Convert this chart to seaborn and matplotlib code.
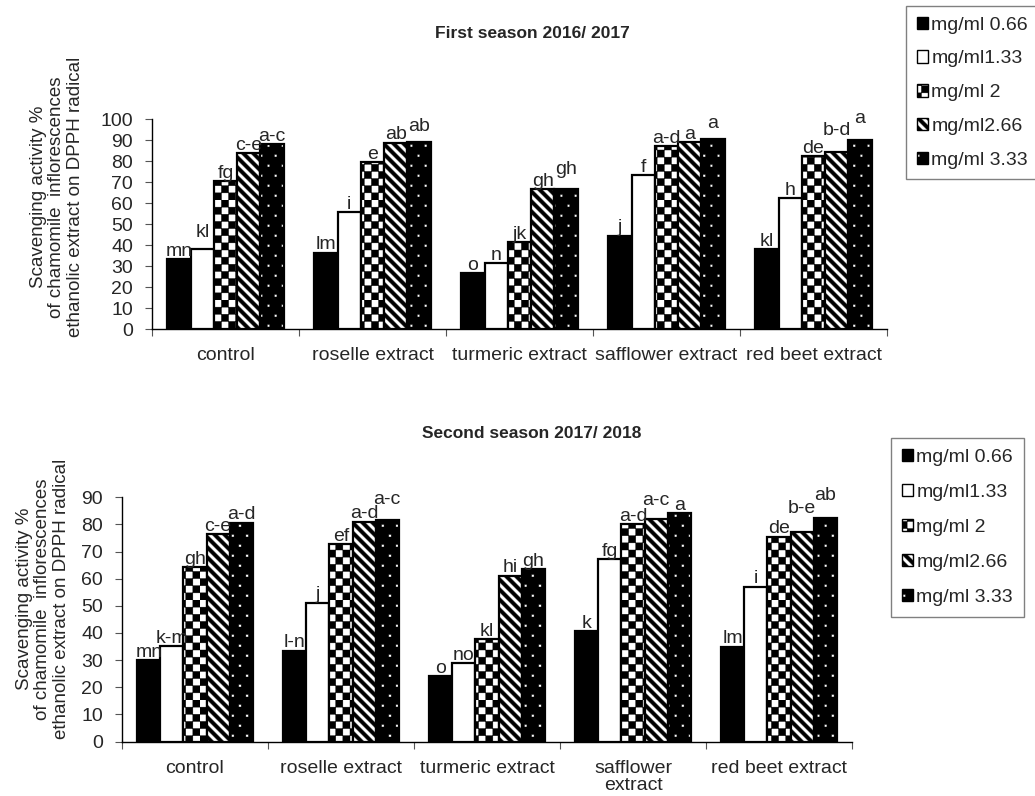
import numpy as np
import pandas as pd
import seaborn as sns
import matplotlib
matplotlib.use("Agg")
import matplotlib.pyplot as plt
import matplotlib.hatch as mhatch
from matplotlib.path import Path
from matplotlib.patches import Patch

# ---------------- data ----------------
categories_1 = ["control", "roselle extract", "turmeric extract",
                "safflower extract", "red beet extract"]
categories_2 = ["control", "roselle extract", "turmeric extract",
                "safflower\nextract", "red beet extract"]
concentrations = ["mg/ml 0.66", "mg/ml1.33", "mg/ml 2", "mg/ml2.66", "mg/ml 3.33"]

# First season 2016/2017 (one list per concentration, order = categories)
s1_c066 = [33.3, 36.5, 26.6, 44.5, 38.2]
s1_c133 = [38.2, 55.8, 31.4, 73.2, 62.3]
s1_c200 = [70.5, 79.4, 41.5, 87.2, 82.3]
s1_c266 = [83.7, 88.7, 66.7, 89.1, 84.4]
s1_c333 = [88.1, 89.1, 66.7, 90.5, 90.0]
s1_letters_c066 = ["mn", "lm", "o", "j", "kl"]
s1_letters_c133 = ["kl", "i", "n", "f", "h"]
s1_letters_c200 = ["fg", "e", "jk", "a-d", "de"]
s1_letters_c266 = ["c-e", "ab", "gh", "a", "b-d"]
s1_letters_c333 = ["a-c", "ab", "gh", "a", "a"]

# Second season 2017/2018
s2_c066 = [30.0, 33.5, 24.1, 40.7, 34.9]
s2_c133 = [35.2, 51.2, 29.0, 67.3, 57.1]
s2_c200 = [64.2, 72.7, 37.7, 80.2, 75.5]
s2_c266 = [76.5, 81.0, 61.1, 81.9, 77.3]
s2_c333 = [80.6, 81.6, 63.5, 84.1, 82.5]
s2_letters_c066 = ["mn", "l-n", "o", "k", "lm"]
s2_letters_c133 = ["k-m", "j", "no", "fg", "i"]
s2_letters_c200 = ["gh", "ef", "kl", "a-d", "de"]
s2_letters_c266 = ["c-e", "a-d", "hi", "a-c", "b-e"]
s2_letters_c333 = ["a-d", "a-c", "gh", "a", "ab"]

ylabel_text = ("Scavenging activity %\nof chamomile  inflorescences\n"
               "ethanolic extract on DPPH radical")
title_1 = "First season 2016/ 2017"
title_2 = "Second season 2017/ 2018"

# label placement style (extra lift in pixels, to avoid collisions as in the original)
s1_lift = {("control", 1): 9, ("roselle extract", 4): 8, ("turmeric extract", 4): 12,
           ("safflower extract", 4): 8, ("red beet extract", 3): 14,
           ("red beet extract", 4): 14}
s2_lift = {("roselle extract", 4): 13, ("safflower\nextract", 3): 11,
           ("red beet extract", 3): 15, ("red beet extract", 4): 14}

# ---------------- custom fill patterns ----------------
class _PolyHatch(mhatch.HatchPatternBase):
    key = None

    def __init__(self, hatch, density):
        self.polys = self.make_polys() if (self.key and self.key in hatch) else []
        self.num_vertices = sum(len(p) + 1 for p in self.polys)

    def make_polys(self):
        return []

    def set_vertices_and_codes(self, vertices, codes):
        i = 0
        for p in self.polys:
            n = len(p)
            vertices[i:i + n] = p
            vertices[i + n] = p[0]
            codes[i] = Path.MOVETO
            codes[i + 1:i + n] = Path.LINETO
            codes[i + n] = Path.CLOSEPOLY
            i += n + 1


class CheckerHatch(_PolyHatch):
    key = "+"

    def make_polys(self):
        n = 14
        polys = []
        for r in range(n):
            for c in range(n):
                if (r + c) % 2 == 0:
                    x0, y0, d = c / n, r / n, 1 / n
                    polys.append([(x0, y0), (x0 + d, y0), (x0 + d, y0 + d), (x0, y0 + d)])
        return polys


class StripeHatch(_PolyHatch):
    key = "\\"

    def make_polys(self):
        polys = []
        w = 0.05
        for k in range(-3, 24):
            c = k * 0.1
            polys.append([(c - 1.1 - w / 2, 1.1), (c - 1.1 + w / 2, 1.1),
                          (c + 0.1 + w / 2, -0.1), (c + 0.1 - w / 2, -0.1)])
        return polys


class DarkDotsHatch(_PolyHatch):
    key = "."

    def make_polys(self):
        polys = [[(-0.02, -0.02), (1.02, -0.02), (1.02, 1.02), (-0.02, 1.02)]]
        d = 0.025
        ncol, nrow = 7, 10
        for r in range(nrow):
            for c in range(ncol):
                x = c / ncol + (0.5 / ncol if r % 2 else 0) + 0.03
                y = r / nrow + 0.03
                polys.append([(x, y), (x, y + d), (x + d, y + d), (x + d, y)])
        return polys


mhatch._hatch_types = [CheckerHatch, StripeHatch, DarkDotsHatch]

face_colors = ["black", "white", "white", "white", "white"]
hatches = [None, None, "+", "\\", "."]

# ---------------- style ----------------
sns.set_theme(style="white")
plt.rcParams["font.family"] = ["Liberation Sans", "DejaVu Sans"]
plt.rcParams["hatch.linewidth"] = 0.3
plt.rcParams["hatch.color"] = "black"

FS = 14
W, H = 1035, 796
fig = plt.figure(figsize=(W / 100, H / 100), dpi=100)


def frac_axes(left, top, right, bottom):
    return fig.add_axes([left / W, 1 - bottom / H, (right - left) / W, (bottom - top) / H])


def make_frame(values, letters, cats):
    rows = []
    for conc, vals, lets in zip(concentrations, values, letters):
        for cat, v, l in zip(cats, vals, lets):
            rows.append({"treatment": cat, "conc": conc, "value": v, "letter": l})
    return pd.DataFrame(rows)


def draw_panel(ax, df, cats, ymax, ystep, title, title_y, lift):
    sns.barplot(data=df, x="treatment", y="value", hue="conc", order=cats,
                hue_order=concentrations, palette=["white"] * 5, width=0.79,
                edgecolor="black", linewidth=1.6, legend=False, ax=ax,
                errorbar=None, saturation=1)
    for j, (cont, fc, hp, conc) in enumerate(zip(ax.containers, face_colors,
                                                 hatches, concentrations)):
        sub = df[df["conc"] == conc].set_index("treatment").loc[cats]
        for cat, bar, lab in zip(cats, cont, sub["letter"]):
            bar.set_facecolor(fc)
            bar.set_edgecolor("black")
            if hp:
                bar.set_hatch(hp)
            extra = lift.get((cat, j), 0) * 0.72
            ax.annotate(lab, (bar.get_x() + bar.get_width() / 2, bar.get_height()),
                        xytext=(0, -0.5 + extra), textcoords="offset points",
                        ha="center", va="bottom", fontsize=FS)
    ax.set_ylim(0, ymax)
    ax.set_yticks(np.arange(0, ymax + 1, ystep))
    ax.set_xlim(-0.5, len(cats) - 0.5)
    ax.set_xticks(np.arange(len(cats)))
    ax.set_xticklabels(cats, fontsize=FS, linespacing=1.0)
    ax.set_xticks(np.arange(-0.5, len(cats)), minor=True)
    ax.tick_params(axis="x", which="major", length=0, pad=13)
    ax.tick_params(axis="x", which="minor", length=5, width=0.8, color="#555555",
                   direction="out", bottom=True)
    ax.tick_params(axis="y", length=5, width=0.8, color="#555555", direction="out",
                   labelsize=FS, pad=8.7, left=True)
    for s in ["top", "right"]:
        ax.spines[s].set_visible(False)
    for s in ["left", "bottom"]:
        ax.spines[s].set_color("black")
        ax.spines[s].set_linewidth(1.0)
    ax.set_xlabel("")
    ax.set_ylabel("")
    ax.grid(False)
    fig.text(532 / W, 1 - title_y / H, title, ha="center", va="center",
             fontsize=12.5, fontweight="bold")


# top panel
ax1 = frac_axes(152, 119, 887, 329.3)
df1 = make_frame([s1_c066, s1_c133, s1_c200, s1_c266, s1_c333],
                 [s1_letters_c066, s1_letters_c133, s1_letters_c200,
                  s1_letters_c266, s1_letters_c333], categories_1)
draw_panel(ax1, df1, categories_1, 100, 10, title_1, 33, s1_lift)

# bottom panel
ax2 = frac_axes(122, 497.3, 852, 741.5)
df2 = make_frame([s2_c066, s2_c133, s2_c200, s2_c266, s2_c333],
                 [s2_letters_c066, s2_letters_c133, s2_letters_c200,
                  s2_letters_c266, s2_letters_c333], categories_2)
draw_panel(ax2, df2, categories_2, 90, 10, title_2, 434, s2_lift)

# y labels
fig.text(57 / W, 1 - 197 / H, ylabel_text, rotation=90, ha="center", va="center",
         fontsize=13.5, multialignment="center", linespacing=1.12)
fig.text(43 / W, 1 - 599 / H, ylabel_text, rotation=90, ha="center", va="center",
         fontsize=13.5, multialignment="center", linespacing=1.12)

# legends
def legend_handles():
    return [Patch(facecolor=fc, edgecolor="black", hatch=hp, linewidth=1.0)
            for fc, hp in zip(face_colors, hatches)]


for (lx, ly, sp) in [(906, 6, 0.86), (891, 438, 0.93)]:
    fig.legend(legend_handles(), concentrations, loc="upper left",
               bbox_to_anchor=(lx / W, 1 - ly / H), fontsize=FS,
               frameon=True, fancybox=False, edgecolor="#808080",
               framealpha=1, handlelength=0.6, handleheight=0.6,
               handletextpad=0.15, labelspacing=sp, borderpad=0.55,
               borderaxespad=0)

fig.savefig("out.png", dpi=100)
